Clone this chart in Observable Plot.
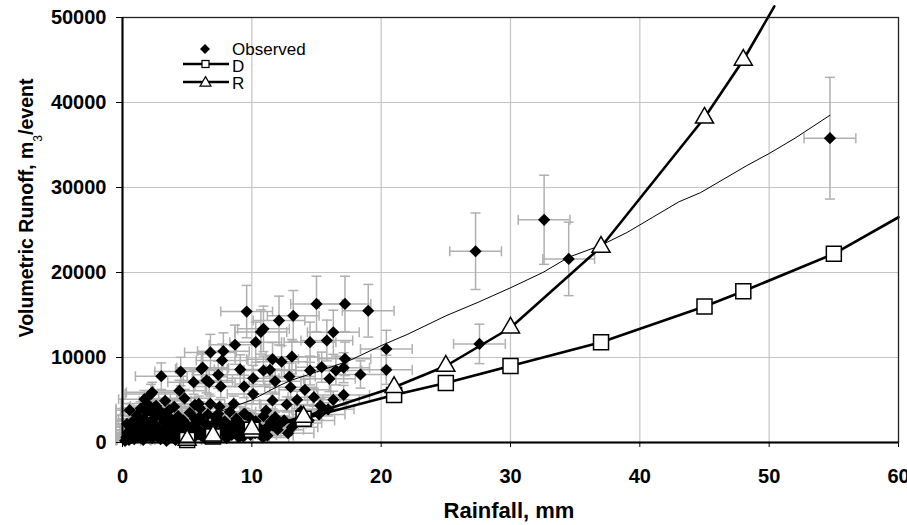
<!DOCTYPE html>
<html><head><meta charset="utf-8">
<script src="https://cdn.jsdelivr.net/npm/d3@7"></script>
<script src="https://cdn.jsdelivr.net/npm/@observablehq/plot@0.6"></script>
<style>
body{margin:0;background:#fff;}
#chart svg{display:block;}
</style></head><body><div id="chart"></div>
<script>
// ---- data ----
const xTicks = [0, 10, 20, 30, 40, 50, 60];
const yTicks = [0, 10000, 20000, 30000, 40000, 50000];

const obsRain = [
  3.0,4.5,6.1,6.8,5.5,4.4,6.7,2.3,1.7,5.9,3.0,2.2,5.6,3.2,
  9.6,12.1,13.2,10.9,10.7,10.3,8.7,7.8,7.7,6.2,9.1,11.6,12.3,13.1,10.9,11.4,10.1,7.4,6.5,11.8,12.9,13.0,9.4,7.6,10.1,11.6,12.7,11.1,11.8,8.6,9.4,6.8,7.4,11.3,12.2,
  15.0,17.2,19.0,16.3,15.8,14.5,20.4,17.2,17.1,16.5,15.4,14.5,18.4,20.4,16.0,14.1,14.8,17.1,16.3,13.5,15.3,13.1,
  27.3,32.6,34.5,27.6,54.7,
  0.2,0.3,0.4,0.5,0.6,0.7,0.8,0.9,1.0,1.1,1.2,1.3,1.4,1.5,1.6,1.7,1.8,1.9,
  2.0,2.1,2.2,2.3,2.4,2.5,2.6,2.7,2.8,2.9,
  3.1,3.2,3.3,3.4,3.5,3.6,3.7,3.8,3.9,
  4.0,4.1,4.2,4.3,4.5,4.6,4.7,4.8,4.9,
  5.1,5.2,5.3,5.5,5.6,5.8,
  6.0,6.1,6.3,6.5,6.6,6.8,
  7.0,7.2,7.3,7.5,7.7,7.9,
  8.1,8.3,8.4,8.6,8.8,
  9.0,9.2,9.5,9.7,9.9,
  10.3,10.6,10.9,11.2,11.6,12.0,12.5,12.8,13.4,13.8,14.4,15.2,15.9,
  0.35,0.65,0.95,1.25,1.45,1.85,2.15,2.35,2.75,3.05,3.25,3.65,3.85,4.25,4.45,4.85,5.05,5.45,5.75,6.05,6.35,6.55,6.95,7.15,7.55,7.85,8.05,8.45,8.65,9.05,9.35,9.55,9.85,10.25,10.45,10.85,11.05,11.45,
  1.05,2.05,2.95,4.05,4.95,5.95,7.05,8.05,8.95,0.55,1.55,2.45,3.55
];
const obsRunoff = [
  7800,8350,8660,10600,7100,6100,7100,5900,5100,4550,3560,5700,4430,3370,
  15400,14350,14900,13370,13000,11800,11500,10750,9650,8800,8600,9800,9500,10100,8470,8550,7560,7960,7300,7200,7760,6500,6600,6600,5700,4940,4470,3760,2980,4550,3370,4550,3370,1800,2200,
  16300,16300,15500,12970,12000,11800,11000,9840,8800,8470,8860,8470,8000,8550,7490,6200,5330,5600,5020,5020,4350,1800,
  22500,26200,21600,11600,35800,
  200,600,1200,300,1800,900,2500,400,1500,3200,700,2100,4000,1100,300,2800,1600,4600,
  800,2300,3600,500,1300,2900,4300,1800,600,3300,
  1000,2400,4900,200,1600,3800,700,2700,1200,
  4200,300,2000,3100,900,1500,2600,5200,400,
  1900,3500,1100,600,2800,1600,
  4000,800,2300,1300,3300,500,
  1900,2900,1000,4200,1500,2500,
  700,3600,1900,1200,2800,
  600,2100,3300,1400,900,
  2500,1300,3100,800,2000,1500,2600,1100,2300,3700,2600,3300,3900,
  2200,500,1900,2600,1400,3600,1200,2000,700,2900,1500,600,2300,1700,2400,1000,800,1900,2300,1200,500,2100,1300,800,2600,2000,1600,900,2300,1400,700,1800,2900,1100,1900,600,1600,2400,
  800,1700,400,2200,1400,3000,2200,500,2000,3800,2700,4100,2600
];
const obsRainErr = 2;         // mm, half-width of horizontal error bars
const obsRunoffErrFrac = 0.2; // relative half-height of vertical error bars

const dRain   = [5, 7, 10, 14, 21, 25, 30, 37, 45, 48, 55];
const dRunoff = [300, 700, 1500, 2800, 5600, 7000, 9000, 11800, 16000, 17800, 22200];
const dLineEnd = [60, 26500];

const rRain   = [5, 7, 10, 14, 21, 25, 30, 37, 45, 48];
const rRunoff = [300, 800, 1600, 3000, 6500, 9000, 13500, 23000, 38200, 45000];
const rLineEnd = [50.4, 51300];

const fitRain   = [0.5,2,4,6,8,10,12,13,15,17.5,20,22,25,27.5,30,32.5,34.5,37,39,41,43,44.7,46.5,48.3,50,52,54.7];
const fitRunoff = [100,700,1700,2800,3900,5000,6600,7300,8300,9600,11400,12700,14900,16500,18200,20000,21800,23200,24700,26500,28300,29400,31000,32600,34000,35800,38500];

// ---- tables ----
const obs = obsRain.map((x, i) => ({x, y: obsRunoff[i]}));
const dPts = dRain.map((x, i) => ({x, y: dRunoff[i]}));
const rPts = rRain.map((x, i) => ({x, y: rRunoff[i]}));
const dLine = [...dPts, {x: dLineEnd[0], y: dLineEnd[1]}];
const rLine = [...rPts, {x: rLineEnd[0], y: rLineEnd[1]}];
const fit = fitRain.map((x, i) => ({x, y: fitRunoff[i]}));

const hCap = {draw(c) { c.moveTo(-5, 0); c.lineTo(5, 0); }};
const vCap = {draw(c) { c.moveTo(0, -5); c.lineTo(0, 5); }};
const barColor = "#b0b0b0";
const f = obsRunoffErrFrac, e = obsRainErr;

const svg = Plot.plot({
  width: 907, height: 525,
  marginLeft: 122, marginRight: 9, marginTop: 17, marginBottom: 83,
  x: {domain: [0, 60]},
  y: {domain: [0, 50000]},
  style: {fontFamily: "'Liberation Sans', Arial, sans-serif", fontSize: "20px", fontWeight: "bold", background: "#fff", color: "#000", overflow: "visible"},
  marks: [
    Plot.gridX(xTicks.slice(1, -1), {stroke: "#c4c4c4", strokeOpacity: 1, strokeWidth: 1.2}),
    Plot.gridY(yTicks.slice(1, -1), {stroke: "#c4c4c4", strokeOpacity: 1, strokeWidth: 1.2}),
    // error bars
    Plot.ruleX(obs, {x: "x", y1: d => d.y * (1 - f), y2: d => d.y * (1 + f), stroke: barColor, strokeWidth: 1.5}),
    Plot.ruleY(obs, {y: "y", x1: d => Math.max(d.x - e, -0.5), x2: d => d.x + e, stroke: barColor, strokeWidth: 1.5}),
    Plot.dot(obs, {x: "x", y: d => d.y * (1 + f), symbol: hCap, fill: "none", stroke: barColor, strokeWidth: 1.5}),
    Plot.dot(obs, {x: "x", y: d => d.y * (1 - f), symbol: hCap, fill: "none", stroke: barColor, strokeWidth: 1.5}),
    Plot.dot(obs, {x: d => d.x + e, y: "y", symbol: vCap, fill: "none", stroke: barColor, strokeWidth: 1.5}),
    Plot.dot(obs, {x: d => Math.max(d.x - e, -0.5), y: "y", symbol: vCap, fill: "none", stroke: barColor, strokeWidth: 1.5}),
    // observed
    Plot.dot(obs, {x: "x", y: "y", symbol: "diamond2", r: 5.5, fill: "#000", stroke: "none"}),
    // thin fitted line
    Plot.line(fit, {x: "x", y: "y", stroke: "#000", strokeWidth: 1}),
    // D and R
    Plot.line(dLine, {x: "x", y: "y", stroke: "#000", strokeWidth: 2.6}),
    Plot.line(rLine, {x: "x", y: "y", stroke: "#000", strokeWidth: 2.6}),
    Plot.dot(dPts, {x: "x", y: "y", symbol: "square", r: 8.46, fill: "#fff", stroke: "#000", strokeWidth: 1.5}),
    Plot.dot(rPts, {x: "x", y: "y", symbol: "triangle", r: 6.7, fill: "#fff", stroke: "#000", strokeWidth: 1.5}),
    // frame and axes
    Plot.frame({stroke: "#222", strokeWidth: 1.3}),
    Plot.ruleX([0], {stroke: "#000", strokeWidth: 2}),
    Plot.ruleY([0], {stroke: "#000", strokeWidth: 2}),
    Plot.axisX({ticks: xTicks, tickSize: 5, tickPadding: 21, label: null, tickFormat: d => String(d)}),
    Plot.axisY({ticks: yTicks, tickSize: 6, tickPadding: 10, label: null, tickFormat: d => String(d)})
  ]
});
document.getElementById("chart").appendChild(svg);

// ---- titles & legend ----
const s = d3.select(svg);
const font = "'Liberation Sans', Arial, sans-serif";
s.append("text")
  .attr("x", 509).attr("y", 518).attr("text-anchor", "middle")
  .attr("font-family", font).attr("font-size", 22).attr("font-weight", "bold").attr("fill", "#000")
  .text("Rainfall, mm");
const yt = s.append("text")
  .attr("transform", "translate(33,208) rotate(-90)")
  .attr("text-anchor", "middle")
  .attr("font-family", font).attr("font-size", 19.5).attr("font-weight", "bold").attr("fill", "#000");
yt.append("tspan").text("Volumetric Runoff, m");
yt.append("tspan").attr("font-size", 12).attr("font-weight", "normal").attr("dy", 8.5).text("3");
yt.append("tspan").attr("dy", -8.5).text("/event");

const lg = s.append("g").attr("font-family", font).attr("font-size", 17).attr("font-weight", "normal")
  .attr("fill", "#000").attr("text-anchor", "start");
lg.append("path").attr("transform", "translate(205,49)").attr("d", d3.symbol(d3.symbolDiamond2, 64)()).attr("fill", "#000");
lg.append("text").attr("x", 232).attr("y", 55).text("Observed");
lg.append("line").attr("x1", 183).attr("x2", 229).attr("y1", 64).attr("y2", 64).attr("stroke", "#000").attr("stroke-width", 2.6);
lg.append("rect").attr("x", 202).attr("y", 60.5).attr("width", 7).attr("height", 7).attr("fill", "#fff").attr("stroke", "#000").attr("stroke-width", 1.2);
lg.append("text").attr("x", 232).attr("y", 72).text("D");
lg.append("line").attr("x1", 183).attr("x2", 229).attr("y1", 82).attr("y2", 82).attr("stroke", "#000").attr("stroke-width", 2.6);
lg.append("path").attr("transform", "translate(205.5,83)").attr("d", d3.symbol(d3.symbolTriangle, 52)()).attr("fill", "#fff").attr("stroke", "#000").attr("stroke-width", 1.2);
lg.append("text").attr("x", 232).attr("y", 89).text("R");
</script></body></html>
